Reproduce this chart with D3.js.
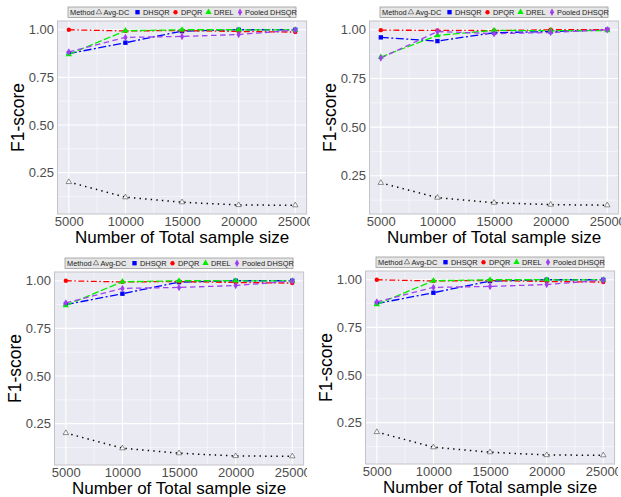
<!DOCTYPE html>
<html>
<head>
<meta charset="utf-8">
<script src="https://cdn.jsdelivr.net/npm/d3@7"></script>
<style>
body { margin: 0; background: #fff; }
text { font-family: "Liberation Sans", Arial, sans-serif; }
</style>
</head>
<body>
<div id="chart"></div>
<script>

// sample sizes on the x axis
var sampleSizes = [5000, 10000, 15000, 20000, 25000];
var xTicks = [5000, 10000, 15000, 20000, 25000];
var yTicks = [0.25, 0.50, 0.75, 1.00];
var methods = ["Avg-DC", "DHSQR", "DPQR", "DREL", "Pooled DHSQR"];

// one row per panel: top-left, top-right, bottom-left, bottom-right
var avgDC = [
  [0.201, 0.121, 0.095, 0.080, 0.079],
  [0.214, 0.138, 0.112, 0.102, 0.099],
  [0.201, 0.121, 0.095, 0.080, 0.079],
  [0.201, 0.121, 0.095, 0.080, 0.079]
];
var dhsqr = [
  [0.875, 0.932, 0.993, 1.000, 1.000],
  [0.961, 0.942, 0.985, 0.991, 1.000],
  [0.875, 0.932, 0.993, 1.000, 1.000],
  [0.875, 0.932, 0.993, 1.000, 1.000]
];
var dpqr = [
  [1.000, 0.994, 0.996, 0.991, 0.988],
  [0.998, 0.997, 0.996, 1.000, 1.000],
  [1.000, 0.994, 0.996, 0.991, 0.988],
  [1.000, 0.994, 0.996, 0.991, 0.988]
];
var drel = [
  [0.871, 0.995, 1.000, 1.000, 0.999],
  [0.860, 0.971, 0.997, 0.995, 0.996],
  [0.871, 0.995, 1.000, 1.000, 0.999],
  [0.871, 0.995, 1.000, 1.000, 0.999]
];
var pooled = [
  [0.884, 0.960, 0.965, 0.975, 0.998],
  [0.855, 0.991, 0.980, 0.986, 1.000],
  [0.884, 0.960, 0.965, 0.975, 0.998],
  [0.884, 0.960, 0.965, 0.975, 0.998]
];

var seriesData = [avgDC, dhsqr, dpqr, drel, pooled];

var styles = [
  {color: "#333333", dash: "1.4,4.2", symbol: d3.symbolTriangle, size: 13, fill: "none"},
  {color: "#0000FF", dash: "8,2.5,2,2.5", symbol: d3.symbolSquare, size: 19},
  {color: "#FF0000", dash: "6,2.5,1.5,2.5", symbol: d3.symbolCircle, size: 15},
  {color: "#00EE00", dash: "7,2.5", symbol: d3.symbolTriangle, size: 17},
  {color: "#A040F0", dash: "5.5,3.5", symbol: d3.symbolDiamond, size: 16}
];

// where each panel sits in the page
var panelPos = [[0, 0], [312, 0], [-3, 251], [308, 250]];

var svg = d3.select("#chart").append("svg")
  .attr("width", 621)
  .attr("height", 497);

var plot = {left: 57.5, right: 306.6, top: 21, bottom: 214};

panelPos.forEach(function(pos, p) {

  var g = svg.append("g")
    .attr("transform", `translate(${pos[0]},${pos[1]})`);

  g.append("clipPath").attr("id", "clip" + p)
    .append("rect").attr("x", 0).attr("y", 0).attr("width", 310).attr("height", 252);

  var panel = g.append("g").attr("clip-path", `url(#clip${p})`);

  var xScale = d3.scaleLinear()
    .domain([4000, 26000])
    .range([plot.left, plot.right]);

  // ggplot style 5% expansion on the data range
  var all = [];
  seriesData.forEach(function(s) { all = all.concat(s[p]); });
  var lo = d3.min(all), hi = d3.max(all), pad = (hi - lo) * 0.05;
  var yScale = d3.scaleLinear()
    .domain([lo - pad, hi + pad])
    .range([plot.bottom, plot.top]);

  // panel background
  panel.append("rect")
    .attr("x", plot.left).attr("y", plot.top)
    .attr("width", plot.right - plot.left).attr("height", plot.bottom - plot.top)
    .attr("fill", "#EAEAF2");

  // minor grid
  [7500, 12500, 17500, 22500].forEach(function(v) {
    panel.append("line")
      .attr("x1", xScale(v)).attr("x2", xScale(v))
      .attr("y1", plot.top).attr("y2", plot.bottom)
      .attr("stroke", "#fff").attr("stroke-width", 0.5);
  });
  [0.125, 0.375, 0.625, 0.875].forEach(function(v) {
    panel.append("line")
      .attr("x1", plot.left).attr("x2", plot.right)
      .attr("y1", yScale(v)).attr("y2", yScale(v))
      .attr("stroke", "#fff").attr("stroke-width", 0.5);
  });
  // major grid
  xTicks.forEach(function(v) {
    panel.append("line")
      .attr("x1", xScale(v)).attr("x2", xScale(v))
      .attr("y1", plot.top).attr("y2", plot.bottom)
      .attr("stroke", "#fff").attr("stroke-width", 1.1);
  });
  yTicks.forEach(function(v) {
    panel.append("line")
      .attr("x1", plot.left).attr("x2", plot.right)
      .attr("y1", yScale(v)).attr("y2", yScale(v))
      .attr("stroke", "#fff").attr("stroke-width", 1.1);
  });

  // lines first, then points (like ggplot layers)
  var line = d3.line()
    .x(function(d, i) { return xScale(sampleSizes[i]); })
    .y(function(d) { return yScale(d); });

  seriesData.forEach(function(s, k) {
    panel.append("path")
      .attr("d", line(s[p]))
      .attr("fill", "none")
      .attr("stroke", k == 0 ? "#000" : styles[k].color)
      .attr("stroke-width", k == 0 ? 1.5 : 1.3)
      .attr("stroke-dasharray", styles[k].dash);
  });

  seriesData.forEach(function(s, k) {
    var st = styles[k];
    panel.selectAll(null)
      .data(s[p])
      .enter()
      .append("path")
      .attr("d", d3.symbol().type(st.symbol).size(st.size))
      .attr("transform", function(d, i) {
        return `translate(${xScale(sampleSizes[i])},${yScale(d)})`;
      })
      .attr("fill", st.fill == "none" ? "#fff" : st.color)
      .attr("stroke", st.fill == "none" ? "#444" : "none")
      .attr("stroke-width", 0.6);
  });

  // panel border
  panel.append("rect")
    .attr("x", plot.left).attr("y", plot.top)
    .attr("width", plot.right - plot.left).attr("height", plot.bottom - plot.top)
    .attr("fill", "none")
    .attr("stroke", "#c4c4c8").attr("stroke-width", 1);

  // axes
  var bottomAxis = d3.axisBottom(xScale).tickValues(xTicks).tickFormat(d3.format("d")).tickSize(0).tickPadding(2.8);
  var leftAxis = d3.axisLeft(yScale).tickValues(yTicks).tickFormat(d3.format(".2f")).tickSize(0).tickPadding(3.5);

  var xa = panel.append("g")
    .attr("transform", `translate(0,${plot.bottom})`)
    .call(bottomAxis);
  var ya = panel.append("g")
    .attr("transform", `translate(${plot.left},0)`)
    .call(leftAxis);

  [xa, ya].forEach(function(a) {
    a.select(".domain").remove();
    a.selectAll("text")
      .attr("fill", "#4d4d4d")
      .attr("font-size", "13px")
      .attr("font-family", "Liberation Sans, Arial, sans-serif");
  });

  // axis titles
  panel.append("text")
    .attr("x", (plot.left + plot.right) / 2)
    .attr("y", 243)
    .attr("text-anchor", "middle")
    .attr("font-size", "17px")
    .attr("fill", "#000")
    .text("Number of Total sample size");

  panel.append("text")
    .attr("transform", `translate(24,${(plot.top + plot.bottom) / 2}) rotate(-90)`)
    .attr("text-anchor", "middle")
    .attr("font-size", "17.5px")
    .attr("fill", "#000")
    .text("F1-score");

  // legend on top
  var leg = panel.append("g");
  leg.append("rect")
    .attr("x", 68).attr("y", 7)
    .attr("width", 228).attr("height", 10.5)
    .attr("fill", "#e6e6e6")
    .attr("stroke", "#9a9a9a").attr("stroke-width", 0.8);

  leg.append("text")
    .attr("x", 70).attr("y", 15)
    .attr("font-size", "7.4px")
    .attr("fill", "#222")
    .text("Method");

  var symX = [99, 137.5, 175.5, 208.5, 240];
  var textX = [103.5, 143, 181, 214, 245];
  methods.forEach(function(m, k) {
    var st = styles[k];
    leg.append("path")
      .attr("d", d3.symbol().type(st.symbol).size(st.size))
      .attr("transform", `translate(${symX[k]},12.2)`)
      .attr("fill", st.fill == "none" ? "none" : st.color)
      .attr("stroke", st.fill == "none" ? "#444" : "none")
      .attr("stroke-width", 0.6);
    leg.append("text")
      .attr("x", textX[k]).attr("y", 15)
      .attr("font-size", "7.4px")
      .attr("fill", "#222")
      .text(m);
  });
});

</script>
</body>
</html>
